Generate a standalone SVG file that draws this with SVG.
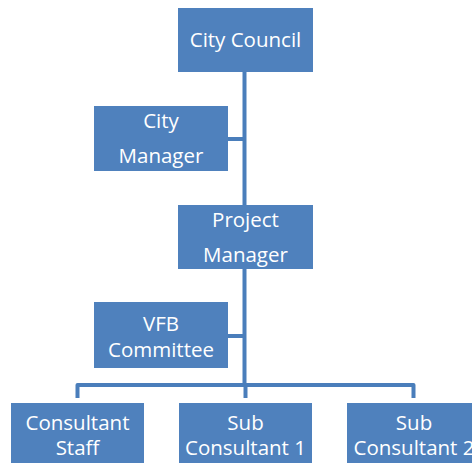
<svg xmlns="http://www.w3.org/2000/svg" width="472" height="463" viewBox="0 0 472 463">
<style>
.box{fill:#4F81BD;}
.t{fill:#fff;font-family:"Open Sans","Liberation Sans",sans-serif;font-size:20.5px;text-anchor:middle;}
.c{stroke:#4A7EBB;stroke-width:4;fill:none;stroke-linejoin:round;}
</style>
<rect width="472" height="463" fill="#fff"/>
<g id="connectors">
<path class="c" d="M244.5 72 V385"/>
<path class="c" d="M228 139 H244.5"/>
<path class="c" d="M228 336 H244.5"/>
<path class="c" d="M77.5 398 V385 H413.5 V398"/>
<path class="c" d="M245.5 385 V398"/>
</g>
<g id="city-council"><rect class="box" x="178" y="8" width="135" height="64"/><text class="t" x="245.5" y="47">City Council</text></g>
<g id="city-manager"><rect class="box" x="94" y="106" width="134" height="65"/><text class="t" x="161" y="128">City</text><text class="t" x="161" y="163">Manager</text></g>
<g id="project-manager"><rect class="box" x="178" y="205" width="135" height="64"/><text class="t" x="245.5" y="227">Project</text><text class="t" x="245.5" y="262">Manager</text></g>
<g id="vfb-committee"><rect class="box" x="94" y="302" width="134" height="66"/><text class="t" x="161" y="331">VFB</text><text class="t" x="161" y="357">Committee</text></g>
<g id="consultant-staff"><rect class="box" x="11" y="403" width="133" height="64"/><text class="t" x="77.5" y="430">Consultant</text><text class="t" x="77.5" y="455">Staff</text></g>
<g id="sub-consultant-1"><rect class="box" x="179" y="403" width="133" height="64"/><text class="t" x="245.5" y="430">Sub</text><text class="t" x="245.5" y="455">Consultant 1</text></g>
<g id="sub-consultant-2"><rect class="box" x="347" y="403" width="134" height="64"/><text class="t" x="414" y="430">Sub</text><text class="t" x="414" y="455">Consultant 2</text></g>
</svg>
